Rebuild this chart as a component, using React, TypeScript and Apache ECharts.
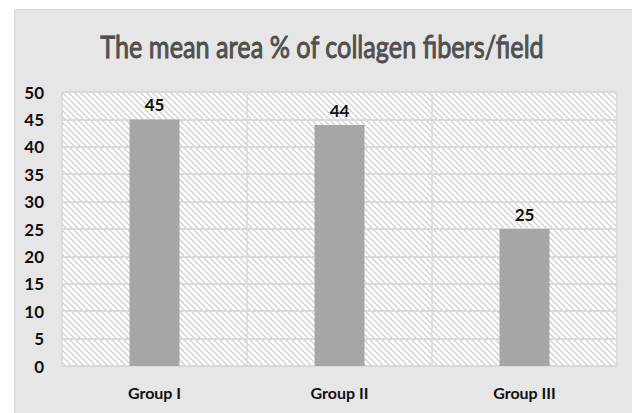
import React, { useEffect, useRef } from "react";
import * as echarts from "echarts";

const titleText = "The mean area % of collagen fibers/field";
const categories = ["Group I", "Group II", "Group III"];
const values = [45, 44, 25];
const yMin = 0;
const yMax = 50;
const yInterval = 5;

const FONT = "Lato, 'Noto Sans', sans-serif";

const hatchSvg =
  "<svg xmlns='http://www.w3.org/2000/svg' width='6' height='6'>" +
  "<rect width='6' height='6' fill='#ffffff'/>" +
  "<path d='M-1,-1 L7,7 M-1,5 L1,7 M5,-1 L7,1' stroke='#d2d2d2' stroke-width='1.4'/>" +
  "</svg>";
const hatchUrl = "data:image/svg+xml;charset=utf-8," + encodeURIComponent(hatchSvg);

export default function App() {
  const ref = useRef<HTMLDivElement>(null);
  useEffect(() => {
    if (!ref.current) return;
    const chart = echarts.init(ref.current, null, { renderer: "svg" });
    chart.setOption({
      animation: false,
      backgroundColor: "#ffffff",
      title: {
        text: titleText,
        show: false,
      },
      graphic: [
        {
          type: "rect",
          left: 14,
          top: 9,
          shape: { width: 632 - 14, height: 413 - 9 },
          style: { fill: "#e6e6e6", stroke: "#d8d8d8", lineWidth: 1 },
          z: -10,
          silent: true,
        },
        {
          type: "text",
          x: 322,
          y: 46,
          scaleX: 0.815,
          z: 10,
          silent: true,
          style: {
            text: titleText,
            fontFamily: FONT,
            fontSize: 31,
            fontWeight: "normal",
            fill: "#505050",
            stroke: "#2e2e2e",
            lineWidth: 0.8,
            textAlign: "center",
            textVerticalAlign: "middle",
            shadowColor: "rgba(0,0,0,0.35)",
            shadowBlur: 2,
            shadowOffsetX: 1,
            shadowOffsetY: 1,
          },
        },
      ],
      grid: {
        left: 62,
        right: 15,
        top: 92,
        bottom: 47,
        show: true,
        backgroundColor: {
          image: hatchUrl,
          repeat: "repeat",
          imageWidth: 6,
          imageHeight: 6,
        },
        borderColor: "#d9d9d9",
        borderWidth: 1,
      },
      xAxis: {
        type: "category",
        data: categories,
        axisTick: { show: false },
        axisLine: { show: true, lineStyle: { color: "#d9d9d9", width: 1.5 } },
        splitLine: { show: true, lineStyle: { color: "#dadada", width: 1.5 } },
        axisLabel: {
          color: "#111",
          fontFamily: FONT,
          fontWeight: "bold",
          fontSize: 16,
          margin: 18,
        },
      },
      yAxis: {
        type: "value",
        min: yMin,
        max: yMax,
        interval: yInterval,
        axisLine: { show: false },
        axisTick: { show: false },
        splitLine: { lineStyle: { color: "#dadada", width: 2 } },
        axisLabel: {
          color: "#111",
          fontFamily: FONT,
          fontWeight: "bold",
          fontSize: 17,
          margin: 18,
        },
      },
      series: [
        {
          type: "bar",
          data: values,
          barWidth: 50,
          itemStyle: { color: "#a6a6a6" },
          label: {
            show: true,
            position: "top",
            distance: 6,
            color: "#111",
            fontFamily: FONT,
            fontWeight: "bold",
            fontSize: 17,
          },
        },
      ],
    });
    return () => chart.dispose();
  }, []);
  return (
    <div
      ref={ref}
      style={{ position: "fixed", left: 0, top: 0, width: 632, height: 413 }}
    />
  );
}
